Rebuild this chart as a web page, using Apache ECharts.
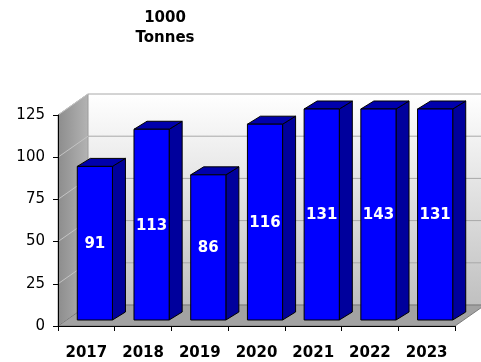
<!DOCTYPE html>
<html>
<head>
<meta charset="utf-8">
<script src="https://cdn.jsdelivr.net/npm/echarts@6/dist/echarts.min.js"></script>
<style>html,body{margin:0;padding:0;background:#fff}#chart{width:481px;height:362px}</style>
</head>
<body>
<div id="chart"></div>
<script>
const categories = ['2017','2018','2019','2020','2021','2022','2023'];
const values = [91, 113, 86, 116, 131, 143, 131];
const yTicks = [0, 25, 50, 75, 100, 125];
const yMax = 125;
const titleText = '1000\nTonnes';

const DX = 30, DY = -21;

function renderWalls(params, api) {
  const cs = params.coordSys;
  const X0 = cs.x, X1 = cs.x + cs.width;
  const Y0 = api.coord([0, 0])[1];
  const Yt = api.coord([0, yMax])[1];
  const children = [];
  children.push({type:'rect', shape:{x:X0+DX, y:Yt+DY, width:X1-X0+20, height:Y0-Yt},
    style:{fill:{type:'linear',x:0,y:0,x2:0,y2:1,colorStops:[{offset:0,color:'#ffffff'},{offset:1,color:'#c0c0c0'}]}}});
  children.push({type:'polygon', shape:{points:[[X0,Y0],[X0,Yt],[X0+DX,Yt+DY],[X0+DX,Y0+DY]]},
    style:{fill:{type:'linear',x:0,y:0,x2:1,y2:0,colorStops:[{offset:0,color:'#8c8c8c'},{offset:1,color:'#b4b4b4'}]}, stroke:'#9a9a9a', lineWidth:1}});
  yTicks.forEach(t => {
    const y = api.coord([0, t])[1];
    children.push({type:'line', shape:{x1:X0+DX, y1:y+DY, x2:X1+DX+20, y2:y+DY}, style:{stroke:'#a8a8a8', lineWidth:1}});
    children.push({type:'line', shape:{x1:X0, y1:y, x2:X0+DX, y2:y+DY}, style:{stroke:'#c4c4c4', lineWidth:1}});
  });
  children.push({type:'polygon', shape:{points:[[X0,Y0],[X1,Y0],[X1+DX,Y0+DY],[X0+DX,Y0+DY]]},
    style:{fill:'#a2a2a2', stroke:'#7a7a7a', lineWidth:1}});
  return {type:'group', children};
}

function renderBar(params, api) {
  const i = api.value(0);
  const raw = api.value(1);
  const v = Math.min(raw, yMax);
  const base = api.coord([i, 0]);
  const topP = api.coord([i, v]);
  const band = api.size([1, 0])[0];
  const w = band * 0.62;
  const ox = band * 0.15, oy = -6;
  const dx = 13, dy = -8;
  const x0 = base[0] + ox - w / 2, x1 = x0 + w;
  const yb = base[1] + oy, yt = topP[1] + oy;
  const stroke = {stroke:'#000', lineWidth:1, lineJoin:'round'};
  return {type:'group', children:[
    {type:'polygon', shape:{points:[[x1,yb],[x1+dx,yb+dy],[x1+dx,yt+dy],[x1,yt]]}, style:Object.assign({fill:'#00009c'}, stroke)},
    {type:'polygon', shape:{points:[[x0,yt],[x0+dx,yt+dy],[x1+dx,yt+dy],[x1,yt]]}, style:Object.assign({fill:'#0000ac'}, stroke)},
    {type:'rect', shape:{x:x0, y:yt, width:w, height:yb-yt}, style:Object.assign({fill:'#0000ff'}, stroke)},
    {type:'text', x:(x0+x1)/2, y:(yt+yb)/2 + 1, style:{text:String(raw), fill:'#fff', font:'bold 15px "DejaVu Sans"', align:'center', verticalAlign:'middle'}}
  ]};
}

const chart = echarts.init(document.getElementById('chart'), null, {renderer:'canvas'});
chart.setOption({
  animation: false,
  backgroundColor: '#fff',
  title: {
    text: titleText, left: 160, top: 3, textAlign: 'center',
    textStyle: {fontFamily:'DejaVu Sans', fontWeight:'bold', fontSize:15, lineHeight:20, color:'#000'}
  },
  grid: {left:58, right:26, top:115, bottom:36},
  xAxis: {
    type:'category', data:categories, z:10,
    axisLine:{show:true, lineStyle:{color:'#000', width:1}},
    axisTick:{show:true, length:5, lineStyle:{color:'#000'}},
    axisLabel:{fontFamily:'DejaVu Sans', fontWeight:'bold', fontSize:15, color:'#000', margin:20},
    splitLine:{show:false}
  },
  yAxis: {
    type:'value', min:0, max:yMax, interval:25, z:10,
    axisLine:{show:true, lineStyle:{color:'#000', width:1}},
    axisTick:{show:true, length:5, lineStyle:{color:'#000'}},
    axisLabel:{fontFamily:'DejaVu Sans', fontSize:15, color:'#000', margin:13},
    splitLine:{show:false}
  },
  series: [
    {type:'custom', name:'walls', renderItem:renderWalls, data:[[0,0]], z:1, silent:true, clip:false},
    {type:'custom', name:'Tonnes', renderItem:renderBar, data:values.map((v,i)=>[i,v]), z:3, clip:false}
  ]
});
</script>
</body>
</html>
